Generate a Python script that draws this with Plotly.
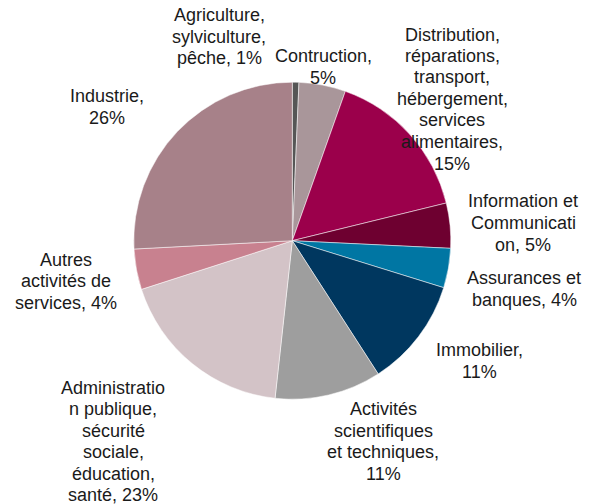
import plotly.graph_objects as go

W, H = 592, 504
# the page shows the figure 8px in from the top-left corner (body margin)
OX, OY = 8, 8
LINE = 21.5  # line pitch of the labels, px

# slice order clockwise from 12 o'clock
sectors = [
    "Agriculture", "Contruction", "Distribution", "Information", "Assurances",
    "Immobilier", "Activités", "Administration", "Autres", "Industrie",
]
# slice sizes
shares = [0.67, 4.76, 15.75, 4.59, 4.02, 11.1, 10.85, 18.3, 4.13, 25.84]
# labels as printed on the chart
labels = [
    "Agriculture,<br>sylviculture,<br>pêche, 1%",
    "Contruction,<br>5%",
    "Distribution,<br>réparations,<br>transport,<br>hébergement,<br>services<br>alimentaires,<br>15%",
    "Information et<br>Communicati<br>on, 5%",
    "Assurances et<br>banques, 4%",
    "Immobilier,<br>11%",
    "Activités<br>scientifiques<br>et techniques,<br>11%",
    "Administratio<br>n publique,<br>sécurité<br>sociale,<br>éducation,<br>santé, 23%",
    "Autres<br>activités de<br>services, 4%",
    "Industrie,<br>26%",
]
colors = [
    "#565656", "#A9969A", "#9B004B", "#6E0030", "#0076A3",
    "#00375F", "#9E9E9E", "#D3C3C7", "#C8818F", "#A78189",
]
# label centres, in pixels of the 592x504 window
label_px = [
    (219, 37), (323, 67), (452, 99), (523, 223), (524, 289),
    (479, 361), (383, 441.5), (113, 441.5), (66, 281), (107, 107),
]


def px_x(v):
    return (v - OX) / W


def px_y(v):
    return 1 - (v - OY) / H


fig = go.Figure(go.Pie(
    labels=sectors, values=shares, sort=False, direction="clockwise", rotation=0,
    textinfo="none", hoverinfo="label+percent", showlegend=False,
    marker=dict(colors=colors, line=dict(color="white", width=0.5)),
    domain=dict(x=[px_x(133.8), px_x(450.8)], y=[px_y(399.2), px_y(82.2)]),
))

# one annotation per line so the line pitch can match the original
for txt, (cx, cy) in zip(labels, label_px):
    rows = txt.split("<br>")
    for i, row in enumerate(rows):
        ry = cy + (i - (len(rows) - 1) / 2) * LINE
        fig.add_annotation(
            text=row, x=px_x(cx), y=px_y(ry), xref="paper", yref="paper",
            xanchor="center", yanchor="middle", showarrow=False,
            font=dict(family="Liberation Sans, Arial, sans-serif", size=18, color="#1a1a1a"),
        )

fig.update_layout(
    width=W, height=H, margin=dict(l=0, r=0, t=0, b=0),
    paper_bgcolor="white", plot_bgcolor="white",
)

fig.write_html("out.html")
